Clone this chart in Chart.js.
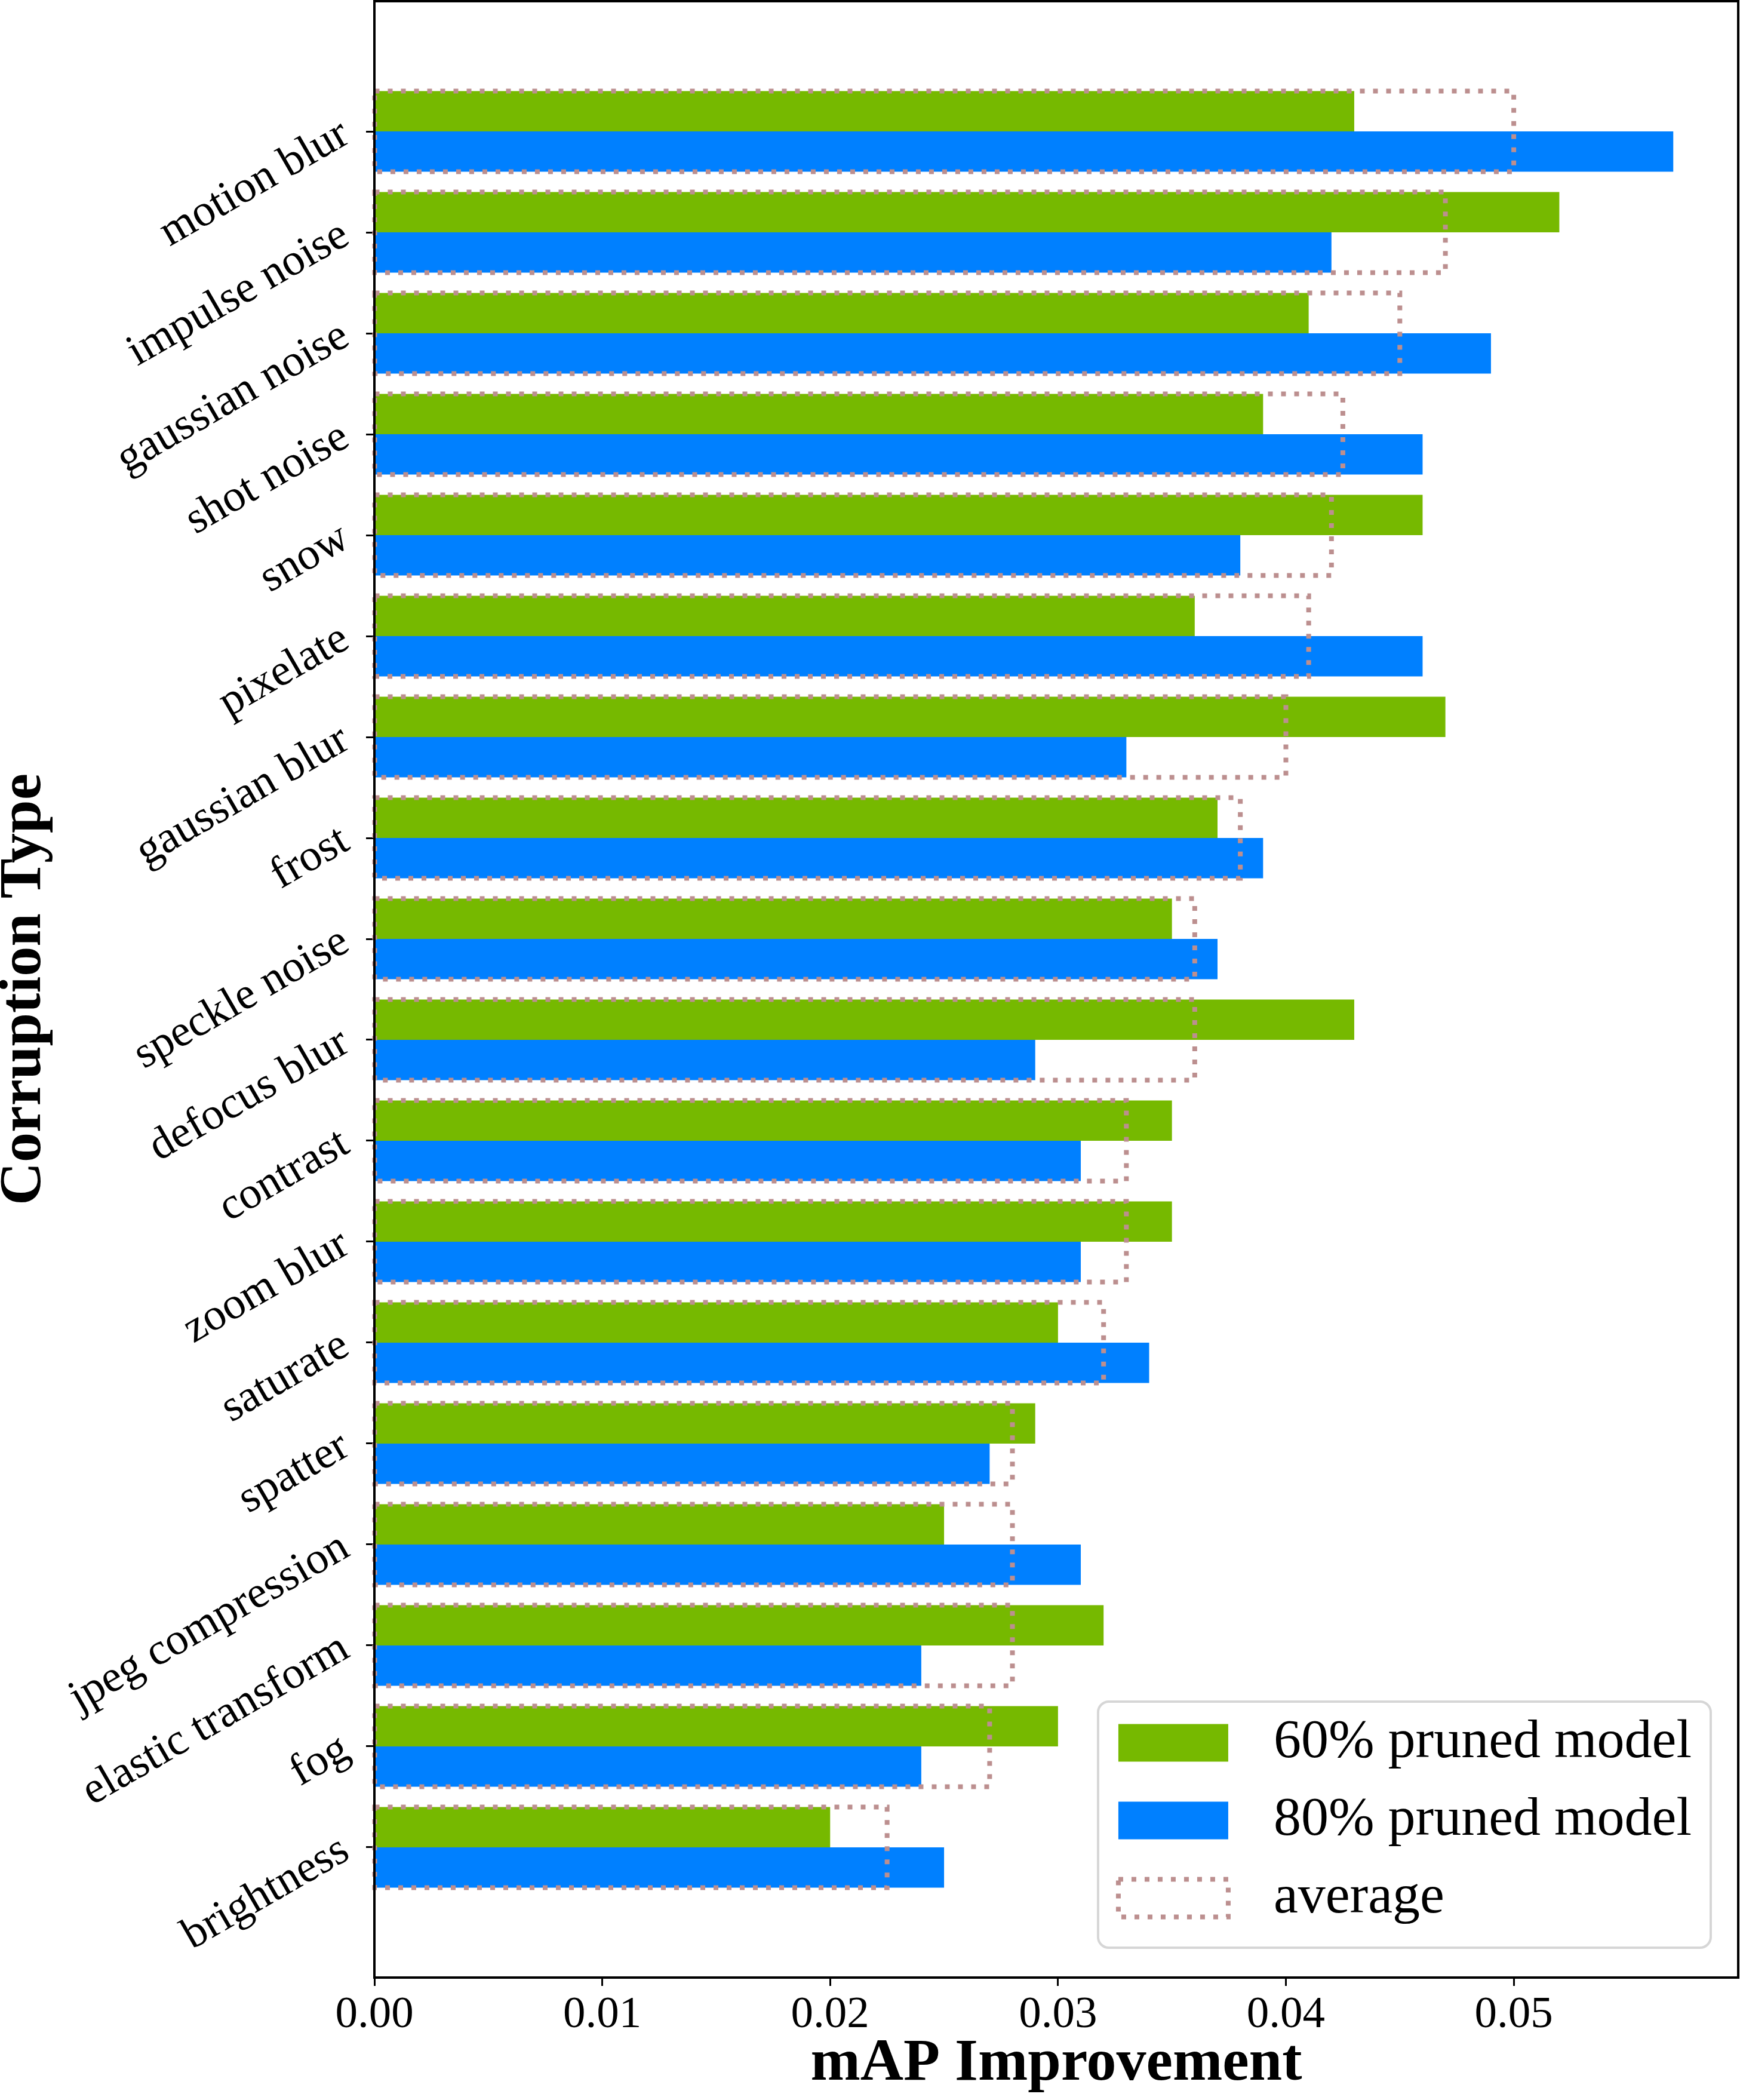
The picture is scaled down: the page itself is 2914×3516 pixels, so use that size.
<!DOCTYPE html>
<html><head><meta charset="utf-8">
<script src="https://cdn.jsdelivr.net/npm/chart.js@4.4.1/dist/chart.umd.min.js"></script>
<style>html,body{margin:0;padding:0;background:#fff;} canvas{display:block;}</style>
</head><body>
<canvas id="c" width="2914" height="3516" style="width:2914px;height:3516px"></canvas>
<script>
// ---- data ----
const categories = ['motion blur','impulse noise','gaussian noise','shot noise','snow','pixelate','gaussian blur','frost','speckle noise','defocus blur','contrast','zoom blur','saturate','spatter','jpeg compression','elastic transform','fog','brightness'];
const pruned60 = [0.043,0.052,0.041,0.039,0.046,0.036,0.047,0.037,0.035,0.043,0.035,0.035,0.030,0.029,0.025,0.032,0.030,0.020];
const pruned80 = [0.057,0.042,0.049,0.046,0.038,0.046,0.033,0.039,0.037,0.029,0.031,0.031,0.034,0.027,0.031,0.024,0.024,0.025];
const average  = [0.050,0.047,0.045,0.0425,0.042,0.041,0.040,0.038,0.036,0.036,0.033,0.033,0.032,0.028,0.028,0.028,0.027,0.0225];
const xTicks = [0, 0.01, 0.02, 0.03, 0.04, 0.05];
const seriesLabels = ['60% pruned model','80% pruned model','average'];
const xTitle = 'mAP Improvement';
const yTitle = 'Corruption Type';

const FONT = '"Liberation Serif", "Times New Roman", serif';
const GREEN = '#76b900', BLUE = '#0080ff', AVG = '#bc8f8f';
const DOT_W = 8, DOT_DASH = [8, 14];

const toPts = arr => arr.map((v, i) => ({x: v, y: i}));

const framePlugin = {
  id: 'frame',
  afterDatasetsDraw(chart) {
    const ctx = chart.ctx;
    const meta = chart.getDatasetMeta(2);
    ctx.save();
    ctx.strokeStyle = AVG; ctx.lineWidth = DOT_W; ctx.setLineDash(DOT_DASH); ctx.lineCap = 'butt';
    meta.data.forEach(el => {
      const p = el.getProps(['x','y','base','height'], true);
      ctx.strokeRect(p.base, p.y - p.height/2, p.x - p.base, p.height);
    });
    ctx.restore();
  },
  afterDraw(chart) {
    const ctx = chart.ctx, a = chart.chartArea;
    ctx.save();
    ctx.strokeStyle = '#000'; ctx.lineWidth = 4; ctx.setLineDash([]);
    ctx.strokeRect(a.left, a.top, a.right - a.left, a.bottom - a.top);
    // legend
    const ds = chart.data.datasets;
    ctx.font = '92px ' + FONT;
    let tw = 0; ds.forEach(d => tw = Math.max(tw, ctx.measureText(d.label).width));
    const padL = 34, patchW = 184, patchH = 63, gap = 76, padR = 32;
    const w = padL + patchW + gap + tw + padR, h = 412;
    const right = a.right - 46, bottom = a.bottom - 50;
    const left = right - w, top = bottom - h;
    const r = 18;
    ctx.beginPath();
    ctx.moveTo(left + r, top); ctx.lineTo(right - r, top); ctx.arcTo(right, top, right, top + r, r);
    ctx.lineTo(right, bottom - r); ctx.arcTo(right, bottom, right - r, bottom, r);
    ctx.lineTo(left + r, bottom); ctx.arcTo(left, bottom, left, bottom - r, r);
    ctx.lineTo(left, top + r); ctx.arcTo(left, top, left + r, top, r); ctx.closePath();
    ctx.fillStyle = 'rgba(255,255,255,0.8)'; ctx.fill();
    ctx.strokeStyle = '#d6d6d6'; ctx.lineWidth = 4; ctx.stroke();
    ds.forEach((d, i) => {
      const cy = top + 69 + i * 130;
      const px = left + padL;
      if (d.legendDotted) {
        ctx.save(); ctx.strokeStyle = AVG; ctx.lineWidth = DOT_W; ctx.setLineDash(DOT_DASH);
        ctx.strokeRect(px, cy - patchH/2, patchW, patchH); ctx.restore();
      } else {
        ctx.fillStyle = d.backgroundColor; ctx.fillRect(px, cy - patchH/2, patchW, patchH);
      }
      ctx.fillStyle = '#000'; ctx.textAlign = 'left'; ctx.textBaseline = 'middle';
      ctx.fillText(d.label, px + patchW + gap, cy);
    });
    ctx.restore();
  }
};

new Chart(document.getElementById('c'), {
  type: 'bar',
  data: {
    datasets: [
      {label: seriesLabels[0], data: toPts(pruned60), backgroundColor: GREEN, borderWidth: 0, categoryPercentage: 0.8, barPercentage: 1},
      {label: seriesLabels[1], data: toPts(pruned80), backgroundColor: BLUE, borderWidth: 0, categoryPercentage: 0.8, barPercentage: 1},
      {label: seriesLabels[2], data: toPts(average), backgroundColor: 'rgba(0,0,0,0)', borderWidth: 0, grouped: false, categoryPercentage: 0.8, barPercentage: 1, legendDotted: true}
    ]
  },
  options: {
    indexAxis: 'y',
    responsive: false,
    animation: false,
    devicePixelRatio: 1,
    layout: {padding: {top: 2, right: 3, left: 0, bottom: 0}},
    plugins: {legend: {display: false}, tooltip: {enabled: false}},
    scales: {
      x: {
        type: 'linear', position: 'bottom', min: 0, max: 0.05985, offset: false,
        afterBuildTicks: s => { s.ticks = xTicks.map(v => ({value: v})); },
        afterFit: s => { s.height = 205; s.paddingLeft = 0; s.paddingRight = 0; },
        ticks: {color: '#000', font: {family: FONT, size: 75}, padding: 4, maxRotation: 0, minRotation: 0,
                callback: v => Number(v).toFixed(2)},
        grid: {offset: false, drawOnChartArea: false, drawTicks: true, tickLength: 14, tickWidth: 3, tickColor: '#000'},
        border: {display: false},
        title: {display: true, text: xTitle, color: '#000', font: {family: FONT, size: 100, weight: 'bold'}, padding: {top: 0, bottom: 0}}
      },
      y: {
        type: 'linear', position: 'left', min: -1.29, max: 18.29, reverse: true, offset: false,
        afterBuildTicks: s => { s.ticks = categories.map((c, i) => ({value: i})); },
        afterFit: s => { s.width = 627; s.paddingTop = 0; s.paddingBottom = 0; },
        ticks: {color: '#000', font: {family: FONT, size: 75}, padding: 34, minRotation: 30, maxRotation: 30,
                callback: v => categories[v]},
        grid: {offset: false, drawOnChartArea: false, drawTicks: true, tickLength: 14, tickWidth: 3, tickColor: '#000'},
        border: {display: false},
        title: {display: true, text: yTitle, color: '#000', font: {family: FONT, size: 100, weight: 'bold'}, padding: {top: -19, bottom: 0}}
      }
    }
  },
  plugins: [framePlugin]
});
</script>
</body></html>
